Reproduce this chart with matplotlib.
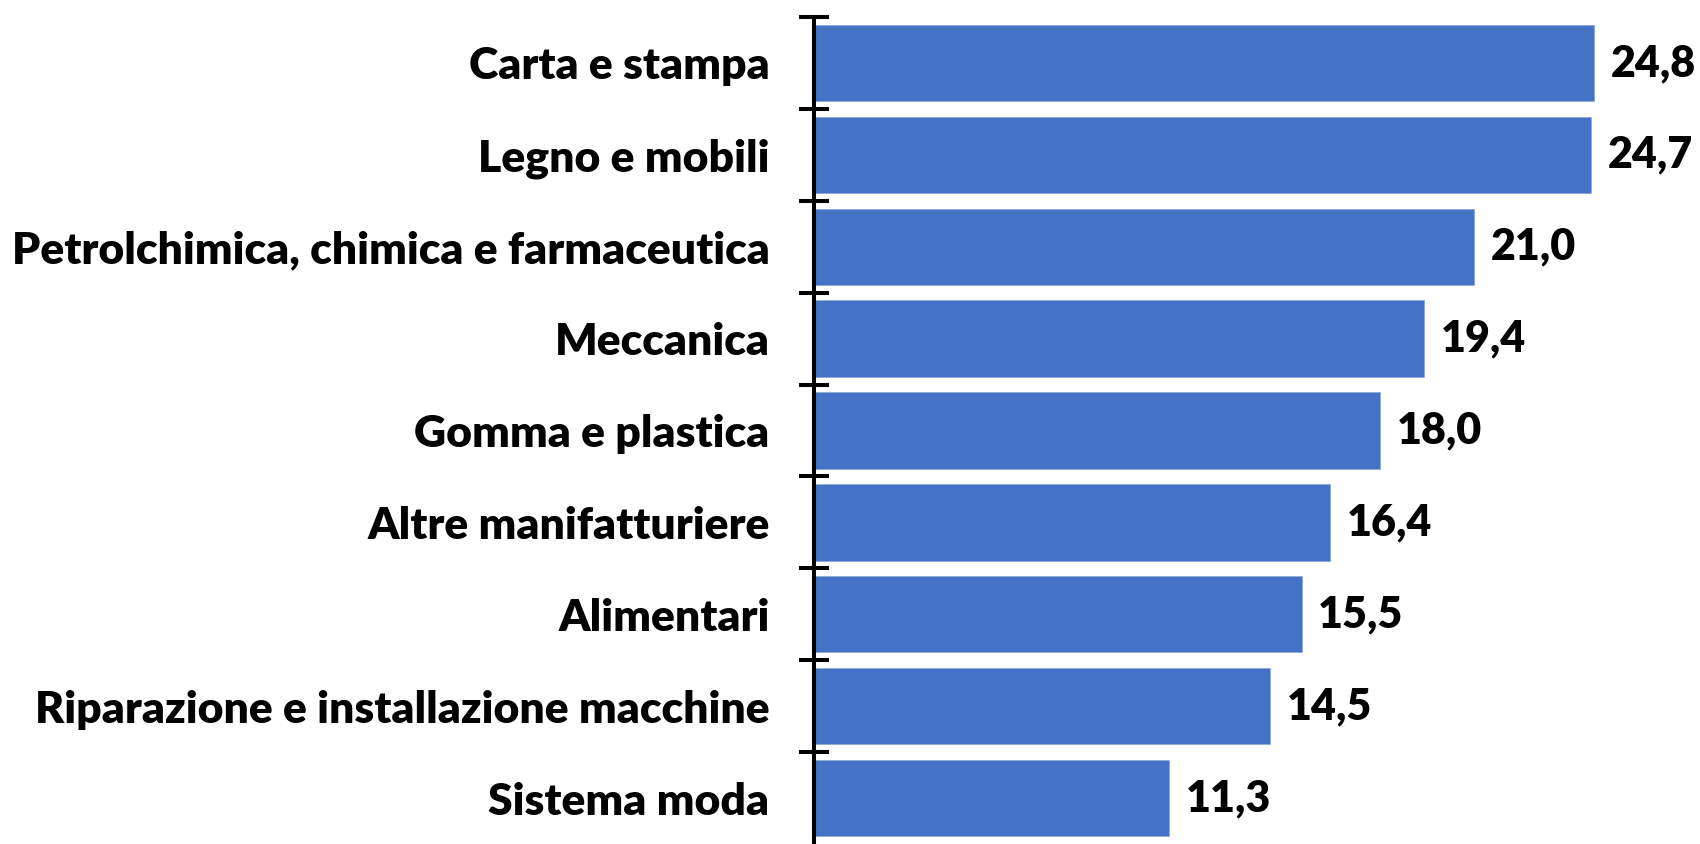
import matplotlib.pyplot as plt

plt.rcParams['font.family'] = ['Lato', 'DejaVu Sans']

# Categories (top to bottom) and values
settori = [
    "Carta e stampa",
    "Legno e mobili",
    "Petrolchimica, chimica e farmaceutica",
    "Meccanica",
    "Gomma e plastica",
    "Altre manifatturiere",
    "Alimentari",
    "Riparazione e installazione macchine",
    "Sistema moda",
]
valori = [24.8, 24.7, 21.0, 19.4, 18.0, 16.4, 15.5, 14.5, 11.3]

fig = plt.figure(figsize=(17, 8.44), dpi=100)
ax = fig.add_axes([814 / 1700, 0.0, (1700 - 814) / 1700, (844 - 17) / 844])

pos = list(range(len(settori)))
ax.barh(pos, valori, height=0.83, color="#4472C4", edgecolor="#8FAADC", linewidth=0.6)

for y, v in zip(pos, valori):
    ax.annotate(f"{v:.1f}".replace(".", ","), xy=(v, y), xytext=(12, 0),
                textcoords="offset points", va="center", ha="left",
                fontsize=31, fontweight="heavy")

ax.set_xlim(0, 28.17)
ax.set_ylim(len(settori) - 0.5, -0.5)
ax.set_yticks(pos)
ax.set_yticklabels(settori, fontsize=32, fontweight="heavy")
# ticks on the category boundaries
ax.set_yticks([p - 0.5 for p in pos], minor=True)
ax.tick_params(axis="y", which="major", length=0, pad=32)
ax.tick_params(axis="y", which="minor", direction="inout", length=22, width=2.9)

ax.set_xticks([])
for s in ["top", "right", "bottom"]:
    ax.spines[s].set_visible(False)
ax.spines["left"].set_linewidth(2.9)

fig.savefig("out.png", dpi=100)
